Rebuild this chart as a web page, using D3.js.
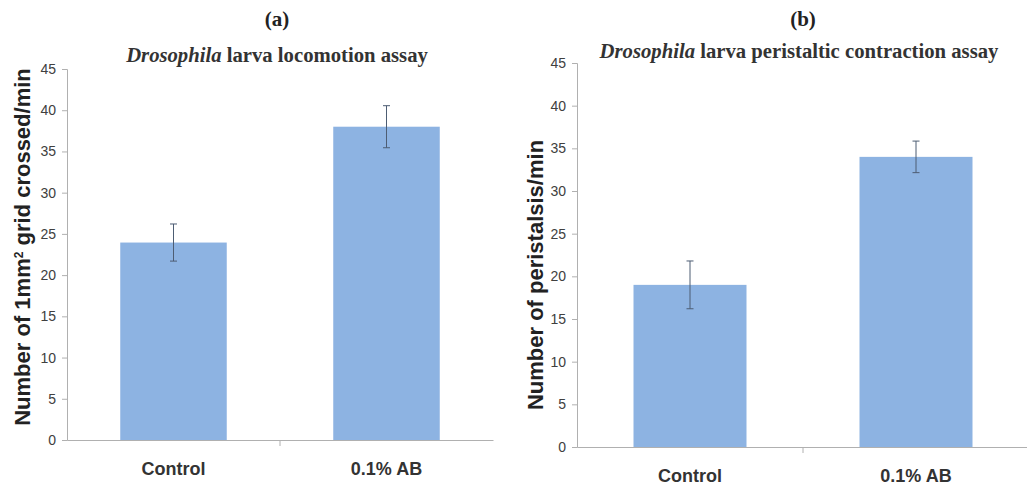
<!DOCTYPE html>
<html><head><meta charset="utf-8">
<script src="https://cdn.jsdelivr.net/npm/d3@7"></script>
<style>body{margin:0;background:#fff}svg{display:block}</style>
</head><body><svg id="c" width="1027" height="488"></svg>
<script>
const categories = ["Control", "0.1% AB"];
const locomotionValues = [23.95, 38.0];
const locomotionErrors = [2.25, 2.55];
const peristalsisValues = [19.0, 34.0];
const peristalsisErrors = [2.8, 1.85];
const yTicks = [0, 5, 10, 15, 20, 25, 30, 35, 40, 45];

const svg = d3.select("#c");
const barColor = "#8db3e2", errColor = "#4d5d73", axisColor = "#b0b0b0";

function panel(o) {
  const g = svg.append("g");
  const x = d3.scaleBand().domain(categories).range([o.x0, o.x1]).paddingInner(0).paddingOuter(0);
  const y = d3.scaleLinear().domain([0, 45]).range([o.y0, o.y1]);
  const ya = g.append("g").attr("transform", `translate(${o.x0},0)`)
    .call(d3.axisLeft(y).tickValues(yTicks).tickSize(5).tickPadding(6));
  ya.select(".domain").attr("stroke", axisColor);
  ya.selectAll(".tick line").attr("stroke", axisColor);
  ya.selectAll("text").attr("fill", "#404040").style("font-family", "'Liberation Sans Narrow','Arial Narrow',Arial,sans-serif").style("font-size", "14px");
  const xa = g.append("g").attr("transform", `translate(0,${o.y0})`)
    .call(d3.axisBottom(x).tickSize(0).tickPadding(22));
  xa.select(".domain").attr("stroke", axisColor);
  xa.selectAll("text").attr("fill", "#333").style("font-family", "'Liberation Sans',Arial,sans-serif").style("font-size", "18px").style("font-weight", "bold");
  g.append("line").attr("x1", x(categories[1])).attr("x2", x(categories[1]))
    .attr("y1", o.y0).attr("y2", o.y0 + 6).attr("stroke", axisColor);
  const bw = x.bandwidth() * o.barFrac;
  g.selectAll("rect.bar").data(categories).join("rect").attr("class", "bar")
    .attr("x", d => x(d) + (x.bandwidth() - bw) / 2)
    .attr("width", bw)
    .attr("y", (d, i) => y(o.values[i]))
    .attr("height", (d, i) => y(0) - y(o.values[i]))
    .attr("fill", barColor);
  categories.forEach((c, i) => {
    const cx = x(c) + x.bandwidth() / 2;
    const hi = y(o.values[i] + o.errors[i]), lo = y(o.values[i] - o.errors[i]);
    g.append("line").attr("x1", cx).attr("x2", cx).attr("y1", hi).attr("y2", lo).attr("stroke", errColor).attr("stroke-width", 1);
    [hi, lo].forEach(v => g.append("line").attr("x1", cx - 3.5).attr("x2", cx + 3.5).attr("y1", v).attr("y2", v).attr("stroke", errColor).attr("stroke-width", 1));
  });
  svg.append("text").attr("x", o.letterX).attr("y", 26).attr("text-anchor", "middle")
    .style("font-family", "'Liberation Serif','Times New Roman',serif").style("font-weight", "bold").style("font-size", "21px").attr("fill", "#222").text(o.letter);
  const t = svg.append("text").attr("x", o.titleX).attr("y", o.titleY).attr("text-anchor", "middle")
    .style("font-family", "'Liberation Serif','Times New Roman',serif").style("font-weight", "bold").style("font-size", "20.7px").attr("fill", "#333");
  t.append("tspan").style("font-style", "italic").text("Drosophila");
  t.append("tspan").text(" " + o.title);
  const yt = svg.append("text").attr("transform", `translate(${o.ytX},${o.ytY}) rotate(-90)`).attr("text-anchor", "middle")
    .style("font-family", "'Liberation Sans',Arial,sans-serif").style("font-weight", "bold").style("font-size", "22px").attr("fill", "#222");
  o.ytitle(yt);
}

panel({x0: 67, x1: 493, y0: 440, y1: 69, values: locomotionValues, errors: locomotionErrors, barFrac: 0.5,
  letter: "(a)", letterX: 277, title: "larva locomotion assay", titleX: 277, titleY: 62, ytX: 30, ytY: 247,
  ytitle: t => { t.append("tspan").text("Number of 1mm"); t.append("tspan").attr("baseline-shift", "super").style("font-size", "12px").text("2"); t.append("tspan").text(" grid crossed/min"); }});
panel({x0: 577, x1: 1029, y0: 447, y1: 63, values: peristalsisValues, errors: peristalsisErrors, barFrac: 0.5,
  letter: "(b)", letterX: 803, title: "larva peristaltic contraction assay", titleX: 799, titleY: 58, ytX: 543, ytY: 275,
  ytitle: t => t.text("Number of peristalsis/min")});
</script></body></html>
